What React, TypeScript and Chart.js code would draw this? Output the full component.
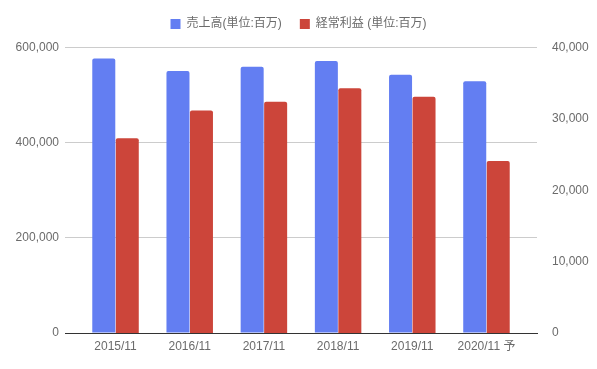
import React, { useEffect, useRef } from "react";
import { Chart, registerables } from "chart.js";

Chart.register(...registerables);

const categories = ["2015/11", "2016/11", "2017/11", "2018/11", "2019/11", "2020/11 予"];
const salesLabel = "売上高(単位:百万)";
const profitLabel = "経常利益 (単位:百万)";
const sales = [577000, 551000, 560000, 572000, 543000, 529000];
const profit = [27300, 31200, 32400, 34300, 33100, 24100];
const leftTicks = [0, 200000, 400000, 600000];
const rightTicks = [0, 10000, 20000, 30000, 40000];

const FONT = "Arial, 'Liberation Sans', 'Noto Sans CJK JP', sans-serif";
const TEXT = "#6b6b6b";

const legendSpacer = {
  id: "legendSpacer",
  beforeInit(chart: any) {
    const legend = chart.legend;
    if (!legend) return;
    const origFit = legend.fit;
    legend.fit = function () {
      origFit.call(this);
      this.height += 7.6;
    };
  },
};

export default function App() {
  const ref = useRef<HTMLCanvasElement | null>(null);

  useEffect(() => {
    const canvas = ref.current;
    if (!canvas) return;
    const chart = new Chart(canvas, {
      type: "bar",
      data: {
        datasets: [
          {
            label: salesLabel,
            data: categories.map((_, i) => ({ x: i, y: sales[i] })),
            backgroundColor: "#637ef2",
            borderRadius: 2,
            borderSkipped: "start",
            yAxisID: "y",
          },
          {
            label: profitLabel,
            data: categories.map((_, i) => ({ x: i, y: profit[i] })),
            backgroundColor: "#cc453a",
            borderRadius: 2,
            borderSkipped: "start",
            yAxisID: "y1",
          },
        ],
      },
      plugins: [legendSpacer],
      options: {
        responsive: false,
        animation: false,
        categoryPercentage: 0.633,
        barPercentage: 0.98,
        layout: { padding: { top: 0, left: 0, right: 0, bottom: 0 } },
        font: { family: FONT, size: 12 },
        plugins: {
          tooltip: { enabled: false },
          legend: {
            position: "top",
            labels: {
              boxWidth: 10,
              boxHeight: 10,
              padding: 18,
              color: TEXT,
              font: { family: FONT, size: 12 },
            },
          },
        },
        scales: {
          x: {
            type: "linear",
            min: -0.681,
            max: 5.681,
            offset: false,
            grid: { display: false, drawTicks: false, offset: false },
            border: { display: true, color: "#333333", width: 1 },
            afterBuildTicks: (scale: any) => {
              scale.ticks = categories.map((_, i) => ({ value: i }));
            },
            afterFit: (scale: any) => {
              scale.height = 36;
              scale.paddingLeft = 0;
              scale.paddingRight = 0;
            },
            ticks: {
              autoSkip: false,
              maxRotation: 0,
              padding: 6,
              color: TEXT,
              font: { family: FONT, size: 12 },
              callback: (v: any) => categories[Math.round(Number(v))] ?? "",
            },
          },
          y: {
            type: "linear",
            position: "left",
            min: 0,
            max: 600000,
            afterBuildTicks: (scale: any) => {
              scale.ticks = leftTicks.map((v) => ({ value: v }));
            },
            afterFit: (scale: any) => {
              scale.width = 65;
              scale.paddingTop = 8;
            },
            grid: {
              drawTicks: false,
              color: (ctx: any) => (ctx.tick && ctx.tick.value === 0 ? "rgba(0,0,0,0)" : "#cccccc"),
            },
            border: { display: false },
            ticks: {
              padding: 6,
              color: TEXT,
              font: { family: FONT, size: 12 },
              callback: (v: any) => Number(v).toLocaleString("en-US"),
            },
          },
          y1: {
            type: "linear",
            position: "right",
            min: 0,
            max: 40000,
            afterBuildTicks: (scale: any) => {
              scale.ticks = rightTicks.map((v) => ({ value: v }));
            },
            afterFit: (scale: any) => {
              scale.width = 60;
              scale.paddingTop = 8;
            },
            grid: { display: false, drawTicks: false },
            border: { display: false },
            ticks: {
              padding: 15,
              color: TEXT,
              font: { family: FONT, size: 12 },
              callback: (v: any) => Number(v).toLocaleString("en-US"),
            },
          },
        },
      } as any,
    });
    return () => chart.destroy();
  }, []);

  return (
    <div style={{ position: "absolute", left: 0, top: 0, width: 597, height: 369, background: "#ffffff" }}>
      <canvas ref={ref} width={597} height={369} style={{ display: "block" }} />
    </div>
  );
}
